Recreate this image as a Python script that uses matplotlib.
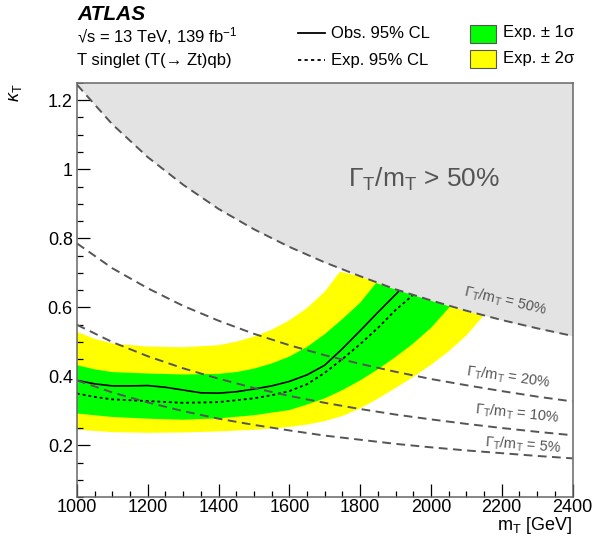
import numpy as np
import matplotlib.pyplot as plt
from matplotlib.patches import Rectangle
from matplotlib.lines import Line2D
from matplotlib.ticker import MultipleLocator, FormatStrFormatter

plt.rcParams['font.family'] = ['Liberation Sans', 'DejaVu Sans']
plt.rcParams['mathtext.fontset'] = 'custom'
plt.rcParams['mathtext.rm'] = 'Liberation Sans'
plt.rcParams['mathtext.it'] = 'Liberation Sans:italic'
plt.rcParams['mathtext.sf'] = 'Liberation Sans'

# --- data ---
width_mass = [1000, 1100, 1200, 1300, 1400, 1500, 1600, 1700,
              1800, 1900, 2000, 2100, 2200, 2300, 2400]
width_50 = [1.245, 1.13, 1.035, 0.955, 0.885, 0.826, 0.775, 0.73,
            0.69, 0.652, 0.62, 0.59, 0.563, 0.539, 0.517]
width_20 = [0.785, 0.713, 0.655, 0.604, 0.561, 0.523, 0.49, 0.461,
            0.436, 0.413, 0.392, 0.374, 0.357, 0.341, 0.327]
width_10 = [0.549, 0.499, 0.458, 0.423, 0.393, 0.366, 0.343, 0.323,
            0.305, 0.289, 0.275, 0.262, 0.25, 0.239, 0.229]
width_5 = [0.388, 0.353, 0.324, 0.299, 0.277, 0.259, 0.243, 0.228,
           0.216, 0.204, 0.194, 0.185, 0.177, 0.169, 0.162]

mass_obs = [1000, 1050, 1100, 1150, 1200, 1250, 1300, 1350, 1400, 1450,
            1500, 1550, 1600, 1650, 1700, 1750, 1800, 1850, 1908]
kappa_obs = [0.388, 0.378, 0.372, 0.372, 0.373, 0.368, 0.36, 0.352, 0.351, 0.355,
             0.363, 0.372, 0.385, 0.404, 0.432, 0.48, 0.532, 0.585, 0.645]

mass_exp = [1000, 1050, 1100, 1200, 1300, 1400, 1500, 1550, 1600, 1650,
            1700, 1750, 1800, 1850, 1900, 1948]
kappa_exp = [0.350, 0.340, 0.333, 0.328, 0.323, 0.325, 0.336, 0.345, 0.357, 0.377,
             0.41, 0.45, 0.493, 0.54, 0.592, 0.634]

mass_m2 = [1000, 1100, 1200, 1300, 1400, 1500, 1600, 1650, 1700, 1750,
           1800, 1850, 1900, 1950, 2000, 2050, 2100, 2148]
kappa_m2 = [0.245, 0.238, 0.236, 0.237, 0.240, 0.245, 0.253, 0.26, 0.27, 0.285,
            0.307, 0.335, 0.366, 0.398, 0.433, 0.472, 0.518, 0.575]

mass_m1 = [1000, 1100, 1200, 1300, 1400, 1500, 1600, 1650, 1700, 1750,
           1800, 1850, 1900, 1950, 2000, 2054]
kappa_m1 = [0.292, 0.282, 0.277, 0.274, 0.278, 0.287, 0.302, 0.318, 0.336, 0.36,
            0.388, 0.42, 0.456, 0.495, 0.54, 0.602]

mass_p1 = [1000, 1050, 1100, 1200, 1300, 1400, 1450, 1500, 1550, 1600,
           1650, 1700, 1750, 1800, 1845]
kappa_p1 = [0.432, 0.42, 0.412, 0.408, 0.405, 0.407, 0.412, 0.422, 0.437, 0.457,
            0.485, 0.522, 0.566, 0.613, 0.67]

mass_p2 = [1000, 1050, 1100, 1200, 1300, 1400, 1450, 1500, 1550, 1600,
           1650, 1700, 1743]
kappa_p2 = [0.529, 0.508, 0.495, 0.486, 0.484, 0.49, 0.5, 0.515, 0.535, 0.562,
            0.598, 0.645, 0.703]


def band_polygon(m_lo, k_lo, m_hi, k_hi):
    # close the band along the 50% width line between the two end points
    m50 = np.array(width_mass)
    k50 = np.array(width_50)
    sel = (m50 > m_hi[-1]) & (m50 < m_lo[-1])
    xs = np.concatenate([m_lo, m50[sel][::-1], m_hi[::-1]])
    ys = np.concatenate([k_lo, k50[sel][::-1], k_hi[::-1]])
    return xs, ys


fig = plt.figure(figsize=(5.96, 5.37), dpi=100)
ax = fig.add_axes([77 / 596, 40 / 537, 495.5 / 596, 414 / 537])

ax.set_xlim(1000, 2400)
ax.set_ylim(0.05, 1.25)

xs, ys = band_polygon(mass_m2, kappa_m2, mass_p2, kappa_p2)
ax.fill(xs, ys, color='#ffff00', lw=0, zorder=1)
xs, ys = band_polygon(mass_m1, kappa_m1, mass_p1, kappa_p1)
ax.fill(xs, ys, color='#00ff00', lw=0, zorder=2)

ax.plot(mass_obs, kappa_obs, color='black', lw=1.2, zorder=3)
ax.plot(mass_exp, kappa_exp, color='black', lw=1.3, ls=(0, (1.6, 1.6)), zorder=3)

ax.fill_between(width_mass, width_50, 1.25, color='#e3e3e3', lw=0, zorder=4)

dash_kw = dict(color='#555555', lw=1.4, dashes=(4.5, 2.8), zorder=5)
ax.plot(width_mass, width_50, **dash_kw)
ax.plot(width_mass, width_20, **dash_kw)
ax.plot(width_mass, width_10, **dash_kw)
ax.plot(width_mass, width_5, **dash_kw)

wlab = r'$\Gamma_{\mathrm{T}}$/m$_{\mathrm{T}}$'
lab_kw = dict(color='#555555', fontsize=10.5, ha='center', va='center', zorder=6)
ax.text(2211, 0.619, wlab + ' = 50%', rotation=-13, **lab_kw)
ax.text(2220, 0.397, wlab + ' = 20%', rotation=-8, **lab_kw)
ax.text(2244, 0.292, wlab + ' = 10%', rotation=-6, **lab_kw)
ax.text(2261, 0.200, wlab + ' = 5%', rotation=-4.5, **lab_kw)
ax.text(1981, 0.970, wlab + ' > 50%', color='#555555', fontsize=19,
        ha='center', va='center', zorder=6)

ax.xaxis.set_major_locator(MultipleLocator(200))
ax.xaxis.set_minor_locator(MultipleLocator(50))
ax.yaxis.set_major_locator(MultipleLocator(0.2))
ax.yaxis.set_minor_locator(MultipleLocator(0.05))
ax.yaxis.set_major_formatter(FormatStrFormatter('%g'))
ax.tick_params(which='both', direction='in', top=False, right=False,
               labelsize=13, color='black')
ax.tick_params(which='major', length=9.5, width=0.9)
ax.tick_params(which='minor', length=4.5, width=0.9)
ax.tick_params(axis='y', pad=3)
ax.tick_params(axis='x', pad=1.5)
for sp in ax.spines.values():
    sp.set_color('#666666')
    sp.set_linewidth(1.1)
    sp.set_zorder(7)

# header, axis titles and legend on an overlay in pixel units
lax = fig.add_axes([0, 0, 1, 1])
lax.set_xlim(0, 596)
lax.set_ylim(537, 0)
lax.axis('off')

lax.text(572, 526, r'm$_{\mathrm{T}}$ [GeV]', fontsize=13, ha='right', va='center')
lax.text(15, 84, r'$\kappa_{\mathrm{T}}$', fontsize=13, ha='center', va='top',
         rotation=90)

lax.text(77, 15, 'ATLAS', fontsize=15, fontweight='bold', fontstyle='italic',
         ha='left', va='center')
lax.text(77, 36, '\u221as = 13 TeV, 139 fb$^{-1}$', fontsize=12, ha='left', va='center')
lax.text(77, 60, 'T singlet (T(\u2192 Zt)qb)', fontsize=12, ha='left', va='center')

lax.add_line(Line2D([298, 325], [33, 33], color='black', lw=1.3))
lax.add_line(Line2D([298, 325], [60, 60], color='black', lw=1.3, ls=(0, (1.8, 1.8))))
lax.text(331, 33, 'Obs. 95% CL', fontsize=12, ha='left', va='center')
lax.text(331, 60, 'Exp. 95% CL', fontsize=12, ha='left', va='center')

lax.add_patch(Rectangle((470, 24.5), 26, 18, facecolor='#00ff00', edgecolor='#555555', lw=0.8))
lax.add_patch(Rectangle((470, 50), 26, 18, facecolor='#ffff00', edgecolor='#555555', lw=0.8))
lax.text(503, 33, 'Exp. \u00b1 1\u03c3', fontsize=12, ha='left', va='center')
lax.text(503, 59, 'Exp. \u00b1 2\u03c3', fontsize=12, ha='left', va='center')

fig.savefig('out.png', dpi=100)
